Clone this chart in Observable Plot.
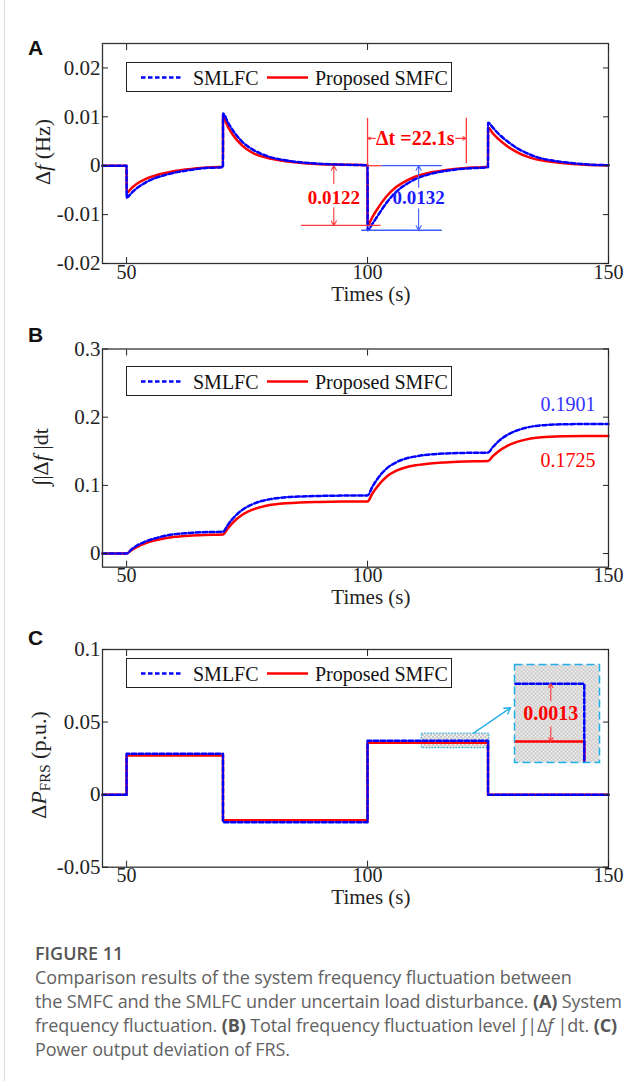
<!DOCTYPE html>
<html><head><meta charset="utf-8">
<script src="https://cdn.jsdelivr.net/npm/d3@7"></script>
<script src="https://cdn.jsdelivr.net/npm/@observablehq/plot@0.6"></script>
<style>
body{margin:0;background:#fff;}
#root{position:relative;width:641px;height:1081px;overflow:hidden;font-family:"Liberation Serif","Times New Roman",serif;background:#fff;}
#root > svg, #root > div{position:absolute;}
.plabel{font-family:"Liberation Sans",Arial,sans-serif;font-weight:bold;font-size:21px;color:#111;line-height:21px;}
.legend{border:1.3px solid #222;background:#fff;box-sizing:border-box;}
.ylab{font-size:22px;white-space:nowrap;line-height:22px;color:#222;transform:translate(-50%,-50%) rotate(-90deg);}
.ylab sub{font-size:15px;vertical-align:-4px;}
.caption{font-family:"Open Sans","Noto Sans",sans-serif;font-size:18px;line-height:24px;color:#626262;white-space:nowrap;letter-spacing:-0.1px;}
.caption .fig{font-weight:600;font-size:18px;color:#555;letter-spacing:0;}
.caption b{font-weight:700;color:#555;}
</style>
</head><body>
<svg width="0" height="0" style="position:absolute"><defs>
<pattern id="chk" width="4" height="4" patternUnits="userSpaceOnUse">
<rect width="4" height="4" fill="#ececec"/><rect width="2" height="2" fill="#c9c9c9"/><rect x="2" y="2" width="2" height="2" fill="#c9c9c9"/>
</pattern></defs></svg>
<div id="root"></div>
<script>
// ---------- data ----------
const xTicks = [50, 100, 150];

// Panel A: frequency deviation Δf (Hz)
const tA = [45,50,50.01,51,52,54,56,58,60,63,66,70,
            70.01,71,72,74,76,78,80,83,86,90,95,100,
            100.01,101,102,104,106,108,110,113,116,120,125,
            125.01,126,127,129,131,133,135,138,141,145,150];
const dfSMFC = [0,0,-0.0056,-0.0046,-0.0038,-0.0027,-0.0020,-0.0015,-0.0011,-0.0007,-0.0004,-0.0002,
            0.0100,0.0080,0.0064,0.0041,0.0027,0.0019,0.0014,0.0009,0.0006,0.0003,0.0002,0.0001,
            -0.0122,-0.0105,-0.0089,-0.0062,-0.0043,-0.0031,-0.0022,-0.0014,-0.0009,-0.0005,-0.0002,
            0.0078,0.0066,0.0056,0.0040,0.0028,0.0019,0.0013,0.0008,0.0005,0.0002,0.0001];
const dfSMLFC = [0,0,-0.0065,-0.0056,-0.0047,-0.0034,-0.0025,-0.0019,-0.0014,-0.0009,-0.0005,-0.0003,
            0.0107,0.0089,0.0073,0.0049,0.0034,0.0024,0.0017,0.0011,0.0007,0.0004,0.0002,0.0001,
            -0.0132,-0.0119,-0.0104,-0.0075,-0.0053,-0.0038,-0.0027,-0.0017,-0.0011,-0.0006,-0.0003,
            0.0088,0.0078,0.0067,0.0050,0.0036,0.0026,0.0018,0.0011,0.0007,0.0003,0.0001];
const yTicksA = [-0.02,-0.01,0,0.01,0.02];

// Panel B: ∫|Δf|dt
const tB = [45,50,51,52,54,56,58,60,63,66,70,71,72,74,76,78,80,83,86,90,95,100,
            101,102,104,106,108,110,113,116,120,125,126,127,129,131,133,135,138,141,145,150];
const intSMFC = [0,0,0.005,0.009,0.0155,0.0195,0.0225,0.0245,0.0263,0.0273,0.028,
            0.037,0.045,0.057,0.064,0.0685,0.0715,0.0737,0.0750,0.0757,0.0762,0.0765,
            0.088,0.098,0.113,0.1215,0.1265,0.1295,0.1322,0.1337,0.1349,0.1356,
            0.1428,0.149,0.158,0.1637,0.1675,0.1697,0.1713,0.172,0.1724,0.1725];
const intSMLFC = [0,0,0.006,0.011,0.018,0.0225,0.026,0.0285,0.0302,0.0313,0.032,
            0.042,0.051,0.064,0.072,0.077,0.080,0.0825,0.0837,0.0845,0.085,0.0853,
            0.098,0.109,0.125,0.134,0.1395,0.1425,0.1453,0.1467,0.1476,0.1481,
            0.1563,0.1635,0.174,0.1805,0.1848,0.1872,0.189,0.1896,0.19,0.1901];
const yTicksB = [0,0.1,0.2,0.3];
const finalLabels = ["0.1901","0.1725"];

// Panel C: ΔP_FRS (p.u.)
const tC = [45,50,70,100,125,150];
const pSMFC = [0,0.027,-0.0177,0.0358,0,0];
const pSMLFC = [0,0.0282,-0.019,0.0371,0,0];
const yTicksC = [-0.05,0,0.05,0.1];

const series = ["SMLFC","Proposed SMFC"];

// ---------- helpers ----------
const RED = "#ff0000", BLUE = "#0000ff", ARED = "#ff3a3a", ABLUE = "#3f5cff", CYAN = "#22aee8";
const FONT = "Liberation Serif";
const rows = (t, a, b) => t.map((x, i) => ({t: x, red: a[i], blue: b[i]}));

function lines(data, curve) {
  return [
    Plot.line(data, {x: "t", y: "red", stroke: RED, strokeWidth: 2.5, curve}),
    Plot.line(data, {x: "t", y: "blue", stroke: BLUE, strokeWidth: 2.5, strokeDasharray: "4.5,2.5", curve})
  ];
}

function panel(yDomain, yTicks, mt, mb, marks) {
  const blank = () => "";
  return Plot.plot({
    width: 641, height: 300,
    marginLeft: 102, marginRight: 33, marginTop: mt, marginBottom: mb,
    x: {domain: [45, 150]},
    y: {domain: yDomain},
    style: {fontFamily: FONT, fontSize: "21px", color: "#222", background: "transparent", overflow: "visible"},
    marks: [
      ...marks,
      Plot.frame({stroke: "#333", strokeWidth: 1.3}),
      // labels
      Plot.axisX(xTicks, {anchor: "bottom", tickSize: 0, tickPadding: 1, tickFormat: d => String(d), label: null, fontSize: 20}),
      Plot.axisY(yTicks, {anchor: "left", tickSize: 0, tickPadding: 2, tickFormat: d => String(d), label: null, fontSize: 21}),
      // inward tick marks on all four sides
      Plot.axisX(xTicks, {anchor: "bottom", tickSize: 6, dy: -6, tickFormat: blank, label: null}),
      Plot.axisX(xTicks, {anchor: "top", tickSize: 6, dy: 6, tickFormat: blank, label: null}),
      Plot.axisY(yTicks, {anchor: "left", tickSize: 6, dx: 6, tickFormat: blank, label: null}),
      Plot.axisY(yTicks, {anchor: "right", tickSize: 6, dx: -6, tickFormat: blank, label: null}),
      Plot.text(["Times (s)"], {x: 100.7, frameAnchor: "bottom", dy: 37, fontSize: 21, fill: "#222"})
    ]
  });
}

const root = document.getElementById("root");
function place(el, left, top) { el.style.left = left + "px"; el.style.top = top + "px"; root.appendChild(el); return el; }
function html(s) { const d = document.createElement("div"); d.innerHTML = s; return d.firstElementChild; }

// ---------- Panel A ----------
const dataA = rows(tA, dfSMFC, dfSMLFC);
const svgA = panel([-0.02, 0.025], yTicksA, 23, 57, [
  ...lines(dataA, "monotone-x"),
  // reference lines
  Plot.ruleY([0], {x1: 100, x2: 103, stroke: ARED, strokeWidth: 1.3}),
  Plot.ruleY([0], {x1: 103, x2: 115.5, stroke: ABLUE, strokeWidth: 1.3}),
  Plot.ruleY([-0.0122], {x1: 86.3, x2: 102.8, stroke: ARED, strokeWidth: 1.3}),
  Plot.ruleY([-0.0132], {x1: 98.8, x2: 115.5, stroke: ABLUE, strokeWidth: 1.3}),
  Plot.arrow([{x: 93, y1: -0.0037, y2: 0}, {x: 93, y1: -0.0086, y2: -0.0122}], {x1: "x", x2: "x", y1: "y1", y2: "y2", stroke: ARED, strokeWidth: 1.1, headLength: 7}),
  Plot.arrow([{x: 110.6, y1: -0.0044, y2: 0}, {x: 110.6, y1: -0.0088, y2: -0.0132}], {x1: "x", x2: "x", y1: "y1", y2: "y2", stroke: ABLUE, strokeWidth: 1.1, headLength: 7}),
  Plot.text(["0.0122"], {x: 93, y: -0.0065, fill: RED, fontWeight: "bold", fontSize: 19}),
  Plot.text(["0.0132"], {x: 110.6, y: -0.0066, fill: "#1a1aff", fontWeight: "bold", fontSize: 19}),
  // Δt annotation
  Plot.ruleX([{x: 100, y1: 0, y2: 0.0097}, {x: 120.5, y1: 0.0004, y2: 0.0097}], {x: "x", y1: "y1", y2: "y2", stroke: ARED, strokeWidth: 1.3}),
  Plot.arrow([{x1: 101.6, x2: 100.1}, {x1: 118.3, x2: 120.4}], {x1: "x1", x2: "x2", y1: 0.0056, y2: 0.0056, stroke: ARED, strokeWidth: 1.1, headLength: 6}),
  Plot.text(["Δt =22.1s"], {x: 109.9, y: 0.0056, fill: RED, fontWeight: "bold", fontSize: 20, ariaLabel: "dtlabel"})
]);
place(svgA, 0, 20);
const dt = svgA.querySelector('g[aria-label="dtlabel"] text');
if (dt) dt.innerHTML = 'Δ<tspan font-style="italic">t</tspan> =22.1s';

// ---------- Panel B ----------
const dataB = rows(tB, intSMFC, intSMLFC);
const svgB = panel([-0.02, 0.3], yTicksB, 28.5, 53.3, [
  ...lines(dataB, "monotone-x"),
  Plot.text([finalLabels[0]], {x: 141.6, y: 0.218, fill: "#3434ff", fontSize: 20}),
  Plot.text([finalLabels[1]], {x: 141.6, y: 0.137, fill: RED, fontSize: 20})
]);
place(svgB, 0, 320);

// ---------- Panel C ----------
const dataC = rows(tC, pSMFC, pSMLFC);
const svgC = panel([-0.05, 0.1], yTicksC, 29, 53.3, [
  Plot.rect([{x1: 111.25, x2: 125.3, y1: 0.032, y2: 0.042}], {x1: "x1", x2: "x2", y1: "y1", y2: "y2", fill: "url(#chk)", stroke: CYAN, strokeWidth: 1.2, strokeDasharray: "1.5,1.5"}),
  ...lines(dataC, "step-after"),
  Plot.arrow([{x1: 122.0, y1: 0.0424, x2: 129.7, y2: 0.0599}], {x1: "x1", x2: "x2", y1: "y1", y2: "y2", stroke: CYAN, strokeWidth: 1.3, headLength: 8})
]);
place(svgC, 0, 620);

// zoomed inset of panel C (same data, magnified scales)
const svgInset = Plot.plot({
  width: 85, height: 98, margin: 0,
  x: {domain: [111.25, 128], axis: null},
  y: {domain: [0.03533, 0.03753], axis: null},
  style: {fontFamily: FONT, background: "transparent", overflow: "visible"},
  marks: [
    Plot.frame({fill: "url(#chk)", stroke: "none"}),
    Plot.line(dataC, {x: "t", y: "red", stroke: RED, strokeWidth: 2.5, curve: "step-after", clip: true}),
    Plot.line(dataC, {x: "t", y: "blue", stroke: BLUE, strokeWidth: 2.5, strokeDasharray: "4.5,2.5", curve: "step-after", clip: true}),
    Plot.arrow([{y1: 0.03672, y2: 0.0371}, {y1: 0.03613, y2: 0.0358}], {x1: 118.4, x2: 118.4, y1: "y1", y2: "y2", stroke: ARED, strokeWidth: 1.1, headLength: 6}),
    Plot.text(["0.0013"], {x: 118.4, y: 0.03643, fill: RED, fontWeight: "bold", fontSize: 20}),
    Plot.frame({stroke: CYAN, strokeWidth: 1.5, strokeDasharray: "8,4"})
  ]
});
place(svgInset, 514, 664);

// ---------- legends ----------
function legend() {
  return html(`<div class="legend" style="width:326px;height:30px">
  <svg width="326" height="30" style="position:absolute;left:0;top:0;overflow:visible">
    <line x1="14" x2="56" y1="14.5" y2="14.5" stroke="${BLUE}" stroke-width="2.5" stroke-dasharray="4.5,2.5"/>
    <text x="66" y="21.5" font-size="20" font-family="${FONT}" fill="#111">${series[0]}</text>
    <line x1="140" x2="181" y1="14.5" y2="14.5" stroke="${RED}" stroke-width="2.5"/>
    <text x="188" y="21.5" font-size="20" font-family="${FONT}" fill="#111">${series[1]}</text>
  </svg></div>`);
}
place(legend(), 126, 62);
place(legend(), 126, 366);
place(legend(), 126, 658);

// ---------- y labels, panel letters ----------
place(html('<div class="ylab">Δ<i>f</i> (Hz)</div>'), 43, 152);
place(html('<div class="ylab">∫|Δ<i>f</i> |dt</div>'), 41, 457);
place(html('<div class="ylab">Δ<i>P</i><sub>FRS</sub> (p.u.)</div>'), 42, 765);
place(html('<div class="plabel">A</div>'), 28, 37);
place(html('<div class="plabel">B</div>'), 28, 324);
place(html('<div class="plabel">C</div>'), 28, 627);

// left border
place(html('<div style="width:1px;height:1081px;background:#d9d9d9"></div>'), 4, 0);

// ---------- caption ----------
place(html(`<div class="caption"><div class="fig">FIGURE 11</div><div>Comparison results of the system frequency fluctuation between<br>the SMFC and the SMLFC under uncertain load disturbance. <b>(A)</b> System<br>frequency fluctuation. <b>(B)</b> Total frequency fluctuation level ∫|Δ<i>f</i> |dt. <b>(C)</b><br>Power output deviation of FRS.</div></div>`), 35, 941);
</script>
</body></html>
